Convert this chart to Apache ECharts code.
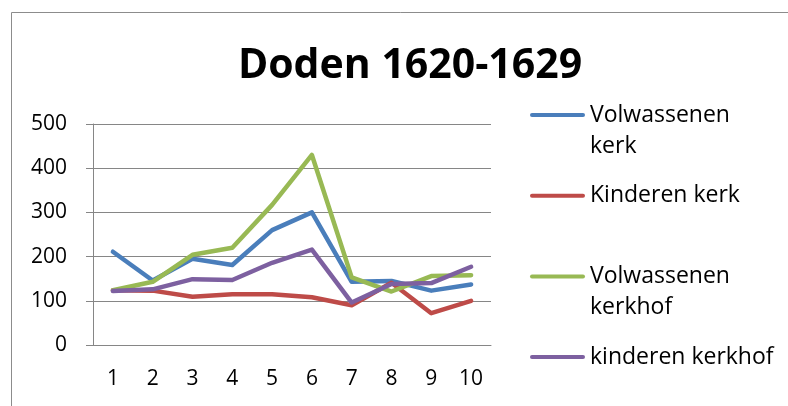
<!DOCTYPE html>
<html>
<head>
<meta charset="utf-8">
<script src="https://cdn.jsdelivr.net/npm/echarts@6/dist/echarts.min.js"></script>
<style>
  html, body { margin: 0; padding: 0; background: #fff; }
  #chart { width: 788px; height: 406px; }
</style>
</head>
<body>
<div id="chart"></div>
<script>
// jaren 1620-1629 als 1..10
const categories = ['1', '2', '3', '4', '5', '6', '7', '8', '9', '10'];
const volwassenenKerk = [211, 146, 195, 181, 260, 300, 143, 145, 123, 137];
const kinderenKerk = [124, 123, 109, 115, 115, 108, 90, 141, 72, 100];
const volwassenenKerkhof = [124, 143, 204, 220, 317, 430, 153, 121, 156, 158];
const kinderenKerkhof = [122, 126, 149, 147, 186, 216, 96, 138, 140, 177];

const names = ['Volwassenen kerk', 'Kinderen kerk', 'Volwassenen kerkhof', 'kinderen kerkhof'];
const colors = ['#4A7EBB', '#BE4B48', '#98B954', '#7D60A0'];
const values = [volwassenenKerk, kinderenKerk, volwassenenKerkhof, kinderenKerkhof];

const font = '"Open Sans", Lato, sans-serif';
const gray = '#868686';

let chart = echarts.init(document.getElementById('chart'));

let series = names.map((n, i) => ({
  name: n,
  type: 'line',
  data: values[i],
  symbol: 'none',
  color: colors[i],
  lineStyle: { width: 4.5, color: colors[i], cap: 'round', join: 'round' }
}));

let option = {
  animation: false,
  title: {
    text: 'Doden 1620-1629',
    left: 405,
    top: 41,
    textAlign: 'center',
    textStyle: { fontFamily: font, fontSize: 41, fontWeight: 'bold', color: '#000' }
  },
  legend: {
    orient: 'vertical',
    left: 530,
    top: 68.5,
    padding: 0,
    itemWidth: 55,
    itemHeight: 4.5,
    itemGap: 18.7,
    icon: 'path://M2,0 L53,0 A2,2 0 0 1 53,4 L2,4 A2,2 0 0 1 2,0 Z',
    // lege eerste regel zodat het lijntje naast de eerste tekstregel staat
    formatter: function (name) {
      if (name === 'Volwassenen kerk') return ' \nVolwassenen\nkerk';
      if (name === 'Volwassenen kerkhof') return ' \nVolwassenen\nkerkhof';
      return name;
    },
    textStyle: { fontFamily: font, fontSize: 23, color: '#000', lineHeight: 31 },
    data: names
  },
  grid: { left: 93, right: 297, top: 124, bottom: 61 },
  xAxis: {
    type: 'category',
    data: categories,
    boundaryGap: true,
    axisLine: { lineStyle: { color: gray, width: 1 } },
    axisTick: { length: 8, lineStyle: { color: gray } },
    axisLabel: { fontFamily: font, fontSize: 21, color: '#000', margin: 24 }
  },
  yAxis: {
    type: 'value',
    min: 0,
    max: 500,
    interval: 100,
    axisLine: { show: true, lineStyle: { color: gray, width: 1 } },
    axisTick: { show: true, length: 7, lineStyle: { color: gray } },
    axisLabel: { fontFamily: font, fontSize: 21, color: '#000', margin: 26 },
    splitLine: { lineStyle: { color: gray, width: 1 } }
  },
  graphic: [{
    type: 'rect',
    shape: { x: 11.5, y: 12.5, width: 820, height: 420 },
    style: { fill: 'none', stroke: '#8c8c8c', lineWidth: 1 },
    silent: true
  }],
  series: series
};

chart.setOption(option);
</script>
</body>
</html>
